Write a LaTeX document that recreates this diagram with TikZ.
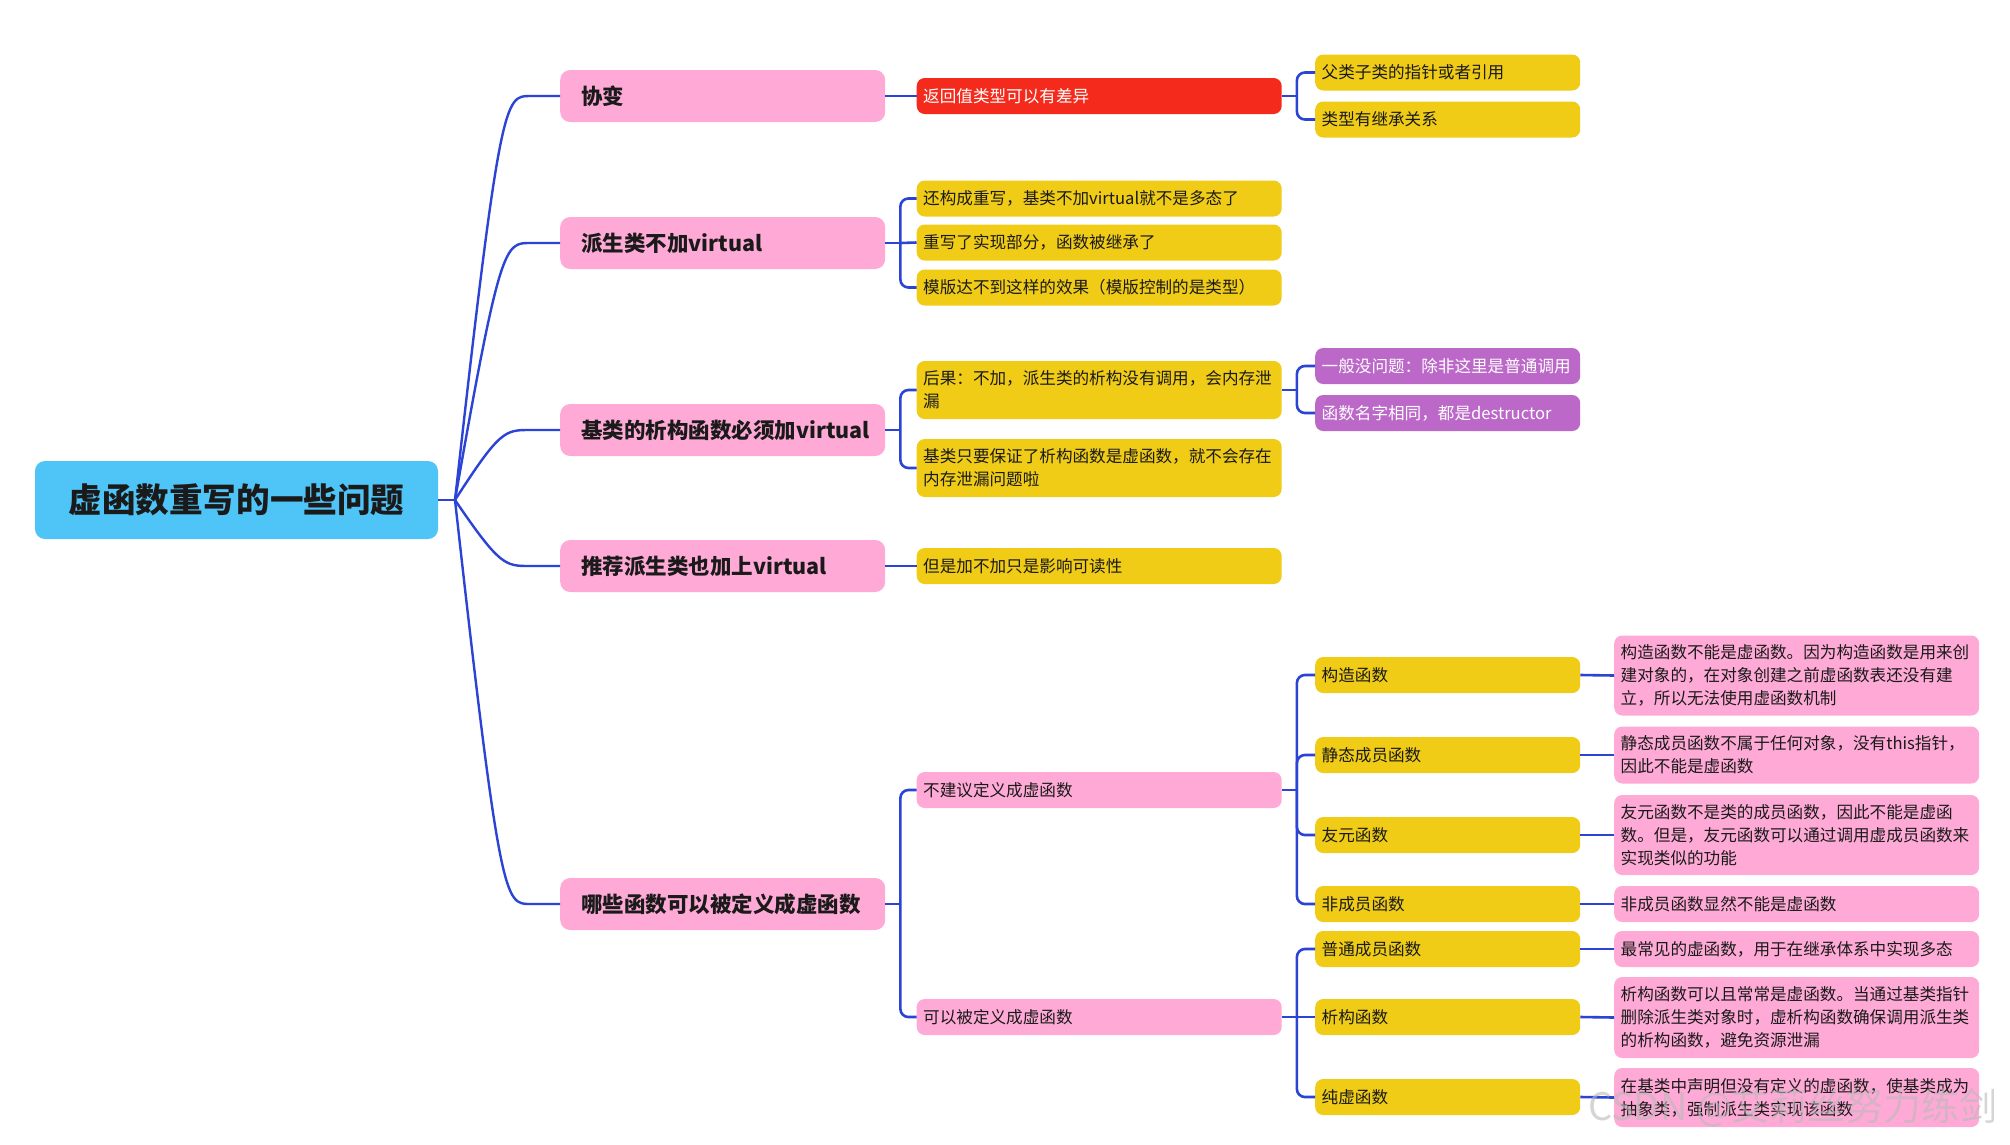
\documentclass[tikz,border=0pt]{standalone}
\usepackage{fontspec}
\setmainfont{Noto Sans CJK SC}
\usetikzlibrary{calc}
\definecolor{rootc}{HTML}{4FC4F7}
\definecolor{pinkc}{HTML}{FFAAD6}
\definecolor{redc}{HTML}{F42B1C}
\definecolor{yelc}{HTML}{F0CC17}
\definecolor{purc}{HTML}{BB68C8}
\definecolor{linec}{HTML}{2B44D6}
\definecolor{txt}{HTML}{1A1A1A}
\newcommand{\mmbrk}[2]{\draw[conn, rounded corners=8pt] ($(#1.east)+(15,0)$) |- (#2.west);}
\newcommand{\mmstub}[1]{\draw[conn] (#1.east) -- ++(15,0);}
\begin{document}
\begin{tikzpicture}[x=1pt,y=-1pt,
  box/.style={rounded corners=8pt, align=left, anchor=west, inner ysep=0pt, text=txt},
  lone/.style={box, fill=pinkc, text width=283pt, inner xsep=21pt, minimum height=52pt, rounded corners=10pt, font=\fontsize{21.5}{26}\selectfont\bfseries},
  ltwo/.style={box, text width=352pt, inner xsep=6.5pt, minimum height=36pt, font=\fontsize{16.6}{23}\selectfont},
  lthree/.style={box, text width=252pt, inner xsep=6.5pt, minimum height=36pt, font=\fontsize{16.6}{23}\selectfont},
  yel/.style={fill=yelc}, pk/.style={fill=pinkc}, rd/.style={fill=redc,text=white}, pu/.style={fill=purc,text=white},
  conn/.style={draw=linec, line width=2.6pt},
]
\useasboundingbox (0,0) rectangle (2010,1144);
\fill[white] (0,0) rectangle (2010,1144);

% root
\node[fill=rootc, rounded corners=10pt, minimum width=403pt, minimum height=78pt, inner sep=0pt, text=txt,
  font=\fontsize{33.6}{40}\selectfont\bfseries] (root) at (236.5,500) {虚函数重写的一些问题};

% level 1
\node[lone] (a) at (560,96) {协变};
\node[lone] (b) at (560,243) {派生类不加virtual};
\node[lone] (c) at (560,430) {基类的析构函数必须加virtual};
\node[lone] (d) at (560,566) {推荐派生类也加上virtual};
\node[lone] (e) at (560,904) {哪些函数可以被定义成虚函数};

% level 2
\node[ltwo, rd] (a1) at (916.5,96) {返回值类型可以有差异};
\node[ltwo, yel] (b1) at (916.5,198.5) {还构成重写，基类不加virtual就不是多态了};
\node[ltwo, yel] (b2) at (916.5,242.5) {重写了实现部分，函数被继承了};
\node[ltwo, yel] (b3) at (916.5,287.5) {模版达不到这样的效果（模版控制的是类型）};
\node[ltwo, yel, minimum height=58pt] (c1) at (916.5,390) {后果：不加，派生类的析构没有调用，会内存泄\\漏};
\node[ltwo, yel, minimum height=58pt] (c2) at (916.5,468) {基类只要保证了析构函数是虚函数，就不会存在\\内存泄漏问题啦};
\node[ltwo, yel] (d1) at (916.5,566) {但是加不加只是影响可读性};
\node[ltwo, pk] (e1) at (916.5,790) {不建议定义成虚函数};
\node[ltwo, pk] (e2) at (916.5,1017) {可以被定义成虚函数};

% level 3
\node[lthree, yel] (a11) at (1315,72.5) {父类子类的指针或者引用};
\node[lthree, yel] (a12) at (1315,119.5) {类型有继承关系};
\node[lthree, pu] (c11) at (1315,366) {一般没问题：除非这里是普通调用};
\node[lthree, pu] (c12) at (1315,413) {函数名字相同，都是destructor};
\node[lthree, yel] (e11) at (1315,675) {构造函数};
\node[lthree, yel] (e12) at (1315,755) {静态成员函数};
\node[lthree, yel] (e13) at (1315,835) {友元函数};
\node[lthree, yel] (e14) at (1315,904) {非成员函数};
\node[lthree, yel] (e21) at (1315,949) {普通成员函数};
\node[lthree, yel] (e22) at (1315,1017) {析构函数};
\node[lthree, yel] (e23) at (1315,1097) {纯虚函数};

% level 4
\node[ltwo, pk, minimum height=80pt] (f11) at (1614,675.5) {构造函数不能是虚函数。因为构造函数是用来创\\建对象的，在对象创建之前虚函数表还没有建\\立，所以无法使用虚函数机制};
\node[ltwo, pk, minimum height=57pt] (f12) at (1614,755) {静态成员函数不属于任何对象，没有this指针，\\因此不能是虚函数};
\node[ltwo, pk, minimum height=80pt] (f13) at (1614,835) {友元函数不是类的成员函数，因此不能是虚函\\数。但是，友元函数可以通过调用虚成员函数来\\实现类似的功能};
\node[ltwo, pk] (f14) at (1614,904) {非成员函数显然不能是虚函数};
\node[ltwo, pk] (f21) at (1614,949) {最常见的虚函数，用于在继承体系中实现多态};
\node[ltwo, pk, minimum height=81pt] (f22) at (1614,1017.5) {析构函数可以且常常是虚函数。当通过基类指针\\删除派生类对象时，虚析构函数确保调用派生类\\的析构函数，避免资源泄漏};
\node[ltwo, pk, minimum height=59pt] (f23) at (1614,1097.5) {在基类中声明但没有定义的虚函数，使基类成为\\抽象类，强制派生类实现该函数};

% root connectors
\coordinate (rb) at (455,500);
\draw[conn] (root.east) -- (rb);
\foreach \n in {a,b,c,d,e}
  \draw[conn, line width=2.4pt] (rb) .. controls ($(\n.west)+(-60,0)$) and ($(\n.west)+(-55,0)$) .. ($(\n.west)+(-30,0)$) -- (\n.west);

% level1 -> level2
\draw[conn] (a.east) -- (a1.west);
\draw[conn] (d.east) -- (d1.west);
\mmstub{b} \mmbrk{b}{b1} \mmbrk{b}{b3} \draw[conn] ($(b.east)+(15,0)$) -- (b2.west);
\mmstub{c} \mmbrk{c}{c1} \mmbrk{c}{c2}
\mmstub{e} \mmbrk{e}{e1} \mmbrk{e}{e2}

% level2 -> level3
\mmstub{a1} \mmbrk{a1}{a11} \mmbrk{a1}{a12}
\mmstub{c1} \mmbrk{c1}{c11} \mmbrk{c1}{c12}
\mmstub{e1} \mmbrk{e1}{e11} \mmbrk{e1}{e12} \mmbrk{e1}{e13} \mmbrk{e1}{e14}
\mmstub{e2} \mmbrk{e2}{e21} \mmbrk{e2}{e23} \draw[conn] ($(e2.east)+(15,0)$) -- (e22.west);

% level3 -> level4
\foreach \s/\t in {e11/f11,e12/f12,e13/f13,e14/f14,e21/f21,e22/f22,e23/f23}
  \draw[conn] (\s.east) -- (\t.west);

% watermark
\node[text=gray!55, opacity=0.6, font=\fontsize{38}{44}\selectfont, anchor=center] (wm) at (1793,1108) {CSDN @艾莉丝努力练剑};
\end{tikzpicture}
\end{document}
